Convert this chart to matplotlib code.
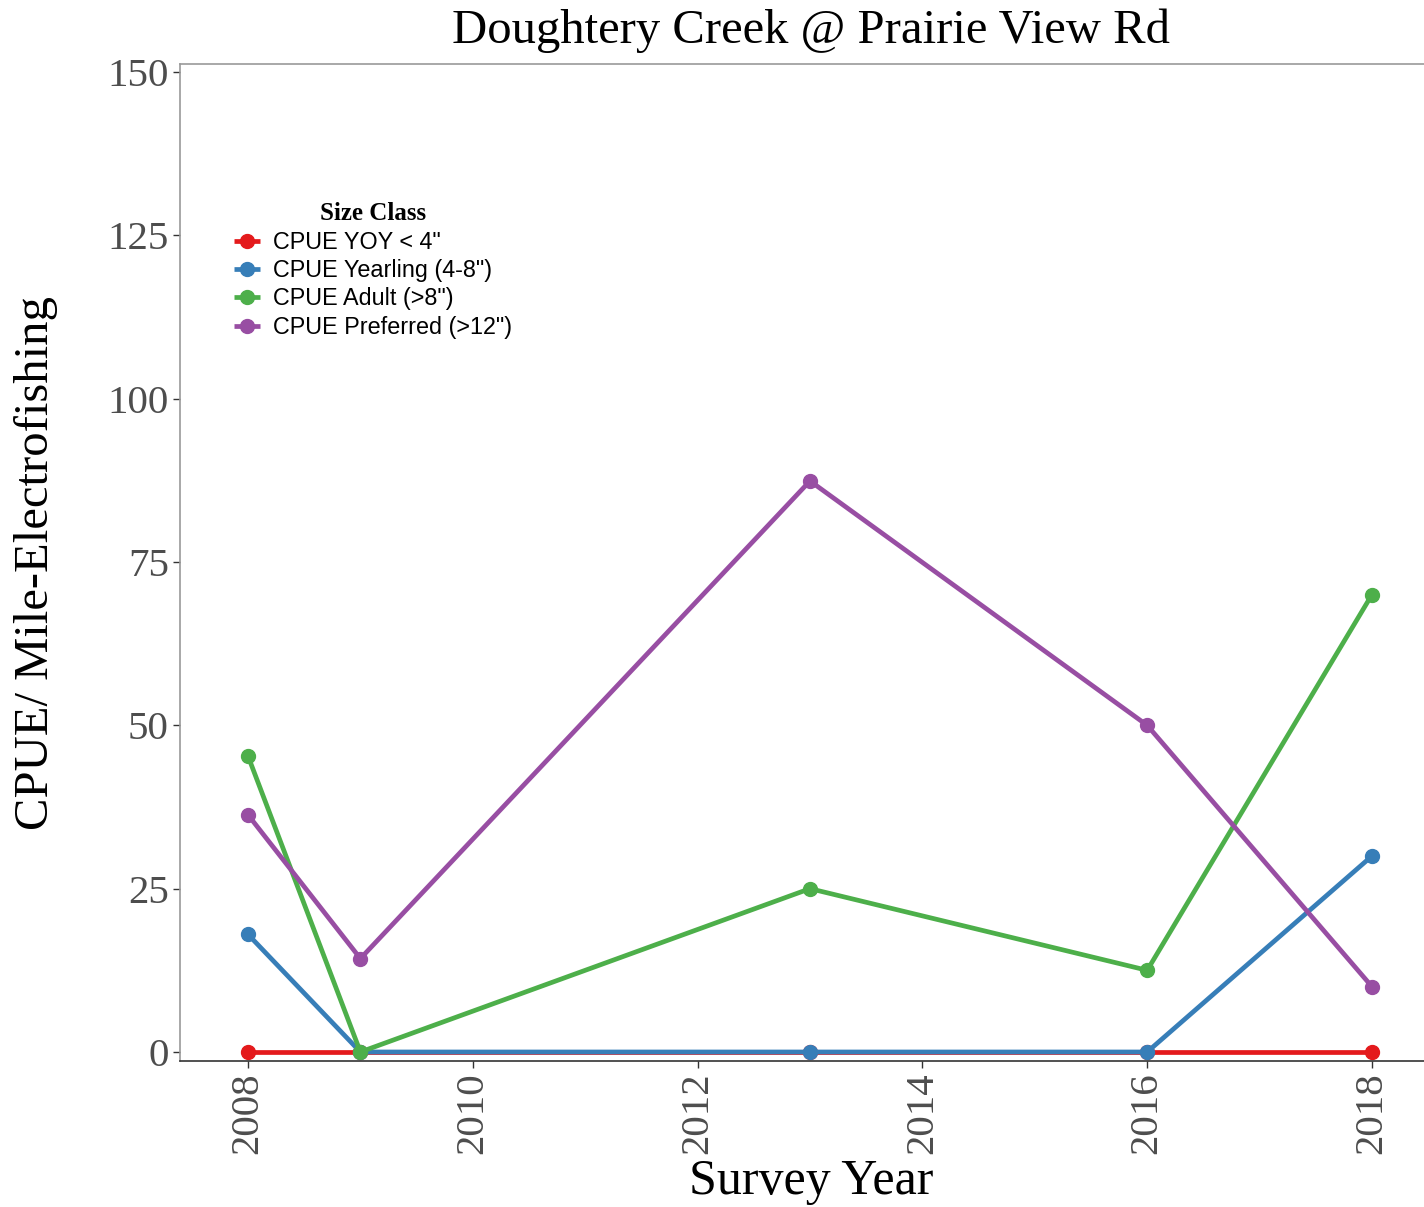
import matplotlib
matplotlib.use("Agg")
import matplotlib.pyplot as plt

years = [2008, 2009, 2013, 2016, 2018]
series_names = ['CPUE YOY < 4"', 'CPUE Yearling (4-8")', 'CPUE Adult (>8")', 'CPUE Preferred (>12")']
yoy = [0, 0, 0, 0, 0]
yearling = [18, 0, 0, 0, 30]
adult = [45.3, 0, 25, 12.5, 70]
preferred = [36.3, 14.3, 87.4, 50, 10]
colors = ["#E41A1C", "#377EB8", "#4DAF4A", "#984EA3"]
x_ticks = [2008, 2010, 2012, 2014, 2016, 2018]
y_ticks = [0, 25, 50, 75, 100, 125, 150]

fig = plt.figure(figsize=(14.24, 12.07), dpi=100)
ax = fig.add_axes([180/1424, 1-1061/1207, 1-180/1424, (1061-64)/1207])

for vals, name, c in zip([yoy, yearling, adult, preferred], series_names, colors):
    ax.plot(years, vals, color=c, lw=3.4, marker='o', ms=10, label=name,
            solid_capstyle='butt')

ax.set_xlim(2007.395, 2018.463)
ax.set_ylim(-1.38, 151.22)
ax.set_xticks(x_ticks)
ax.set_yticks(y_ticks)
ax.set_xticklabels([str(t) for t in x_ticks], rotation=90, family='Liberation Serif',
                   fontsize=29.5, color='#4D4D4D')
ax.set_yticklabels([str(t) for t in y_ticks], family='Liberation Serif',
                   fontsize=29.5, color='#4D4D4D')
ax.tick_params(axis='both', length=5, width=1, color='#333333', pad=3)

for s in ['left', 'top']:
    ax.spines[s].set_color('#999999')
    ax.spines[s].set_linewidth(1.2)
ax.spines['bottom'].set_color('#333333')
ax.spines['bottom'].set_linewidth(1.2)
ax.spines['right'].set_visible(False)

fig.text(811/1424, 1-31/1207, 'Doughtery Creek @ Prairie View Rd', ha='center', va='center',
         family='Liberation Serif', fontsize=35, color='black')
fig.text(811/1424, 1-1182/1207, 'Survey Year', ha='center', va='center',
         family='Liberation Serif', fontsize=36, color='black')
fig.text(36/1424, 1-563/1207, 'CPUE/ Mile-Electrofishing', ha='center', va='center',
         rotation=90, family='Liberation Serif', fontsize=35, color='black')

leg = ax.legend(loc='upper left', bbox_to_anchor=((225-180)/1244, 1-(193-64)/997),
                frameon=False, prop={'family': 'Liberation Sans', 'size': 16.8},
                title='Size Class', handlelength=1.1, handletextpad=0.55, labelspacing=0.23,
                borderaxespad=0)
leg.get_title().set_fontfamily('Liberation Serif')
leg.get_title().set_fontweight('bold')
leg.get_title().set_fontsize(18)

fig.savefig('out.png', dpi=100, facecolor='white')
